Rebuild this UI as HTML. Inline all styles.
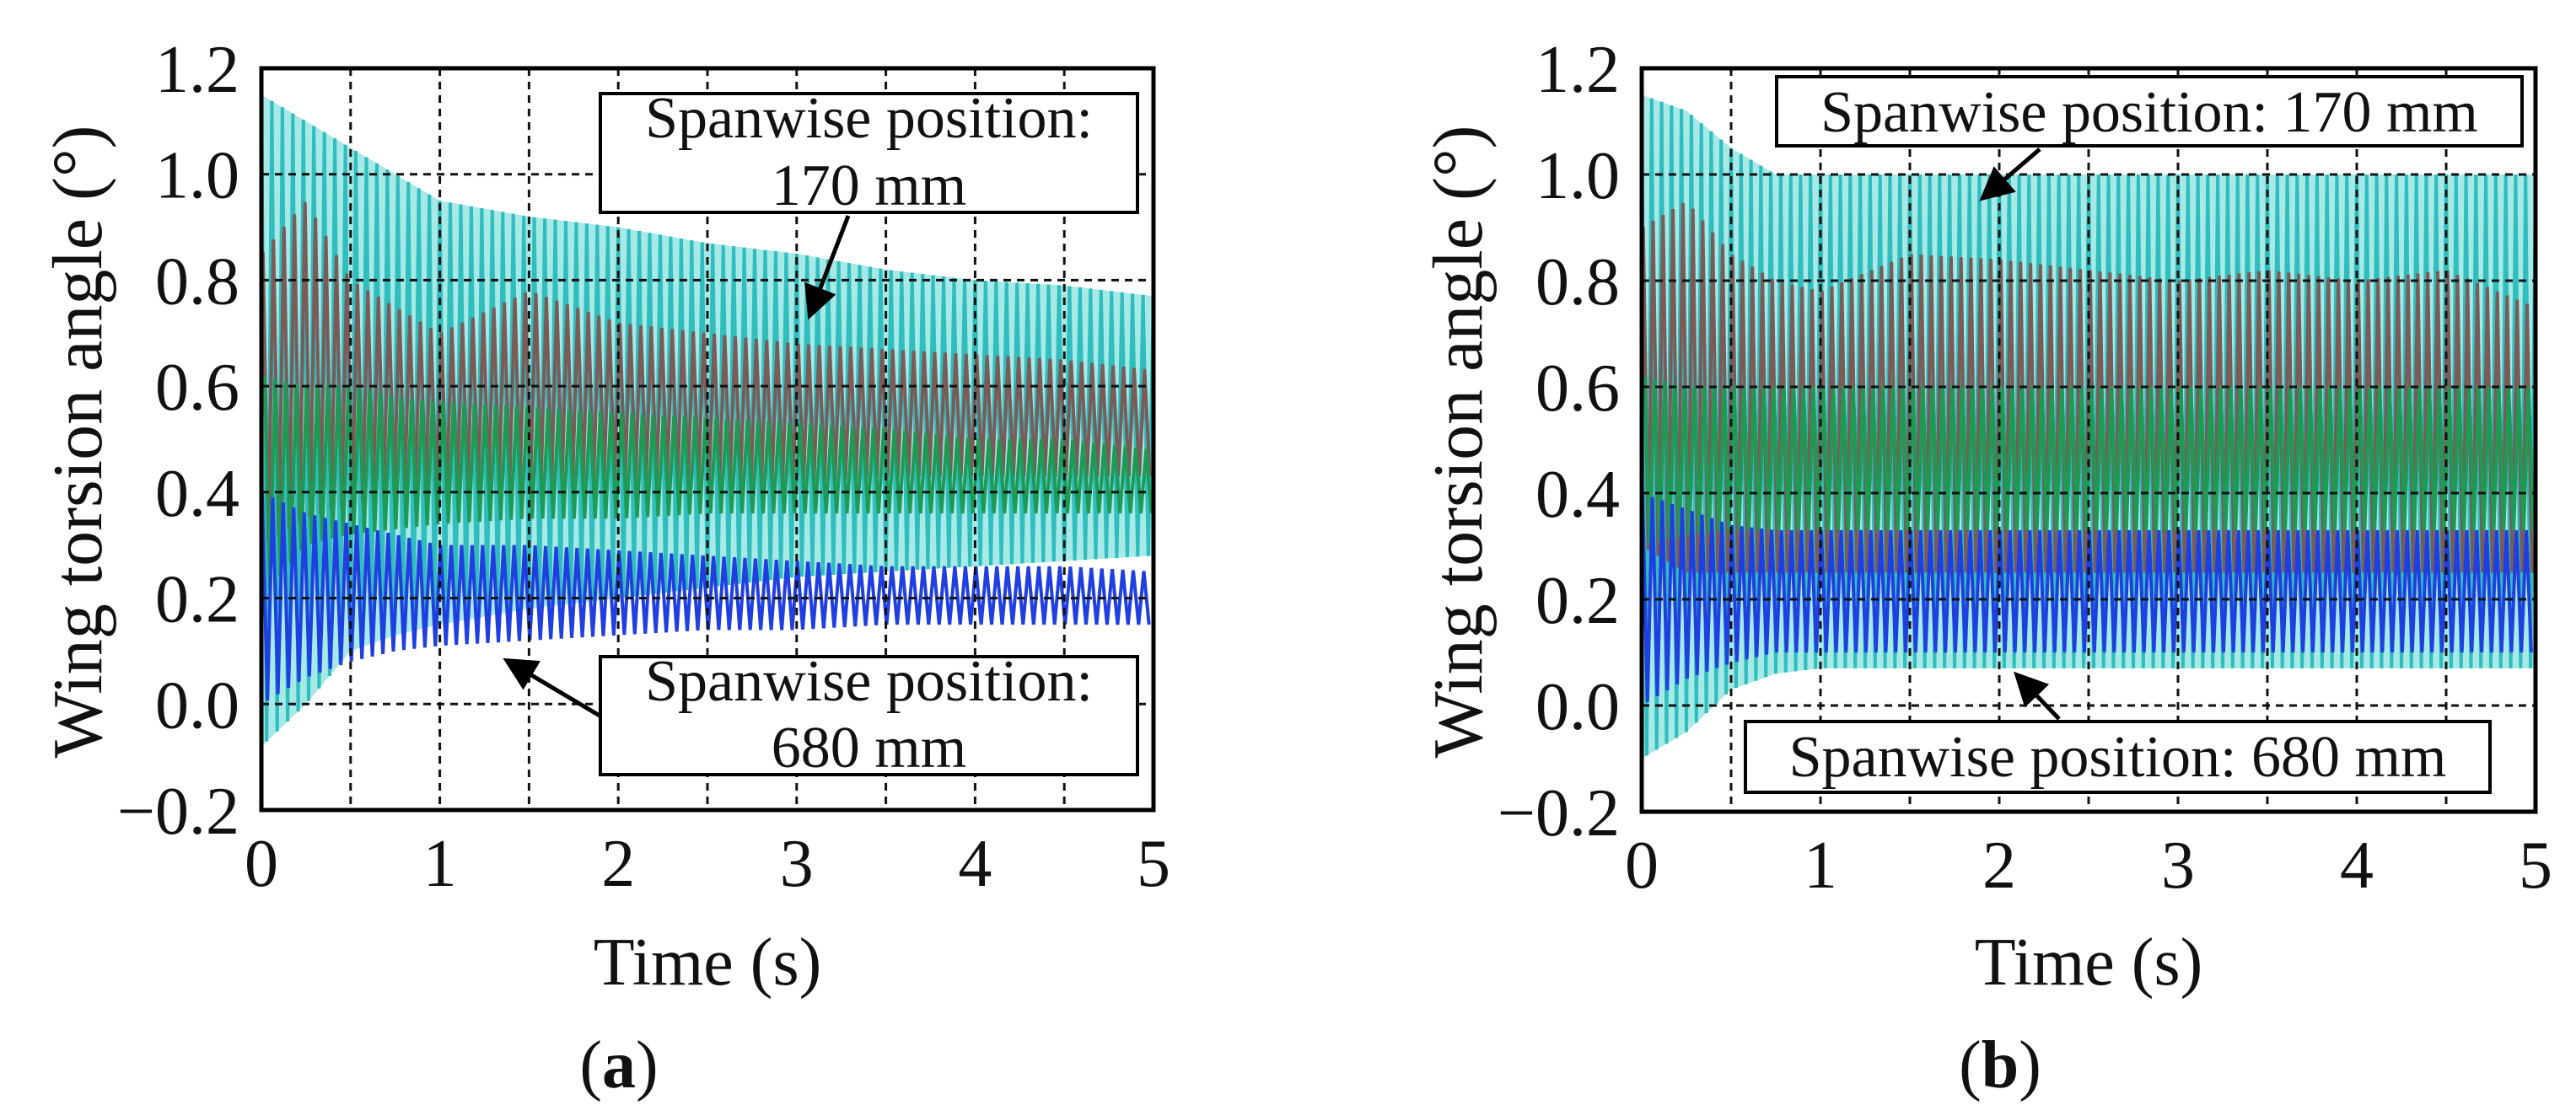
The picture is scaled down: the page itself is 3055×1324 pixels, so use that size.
<!DOCTYPE html>
<html><head><meta charset="utf-8"><style>
html,body{margin:0;padding:0;background:#fff;width:3055px;height:1324px;overflow:hidden}
svg text{font-family:"Liberation Serif",serif;fill:#111}
</style></head><body>
<svg id="fig" width="3055" height="1324" viewBox="0 0 3055 1324" xmlns="http://www.w3.org/2000/svg">
<defs><marker id="ah" markerWidth="8" markerHeight="8" refX="6" refY="4" orient="auto" markerUnits="strokeWidth"><path d="M0,0 L8,4 L0,8 z" fill="#000"/></marker></defs>
</svg>
<script>
const envT = [0,0.25,0.5,0.75,1,1.5,2,2.5,3,3.5,4,4.5,5];
// Panel a envelopes
const aCyanHi = [1.15,1.1,1.05,1.0,0.95,0.92,0.9,0.87,0.85,0.82,0.8,0.79,0.77];
const aCyanLo = [-0.08,0.0,0.1,0.13,0.15,0.18,0.2,0.22,0.24,0.25,0.26,0.27,0.28];
const aBrownHi = [0.85,0.95,0.8,0.75,0.7,0.78,0.72,0.7,0.68,0.67,0.66,0.65,0.63];
const aBrownLo = [0.3,0.35,0.38,0.4,0.4,0.42,0.42,0.42,0.42,0.43,0.43,0.43,0.43];
const aGreenHi = [0.62,0.6,0.6,0.58,0.57,0.56,0.55,0.54,0.53,0.52,0.5,0.5,0.48];
const aGreenLo = [0.2,0.3,0.32,0.33,0.34,0.35,0.35,0.36,0.36,0.36,0.36,0.36,0.36];
const aBlueHi = [0.4,0.36,0.34,0.32,0.3,0.3,0.29,0.28,0.27,0.26,0.26,0.26,0.25];
const aBlueLo = [0.0,0.05,0.08,0.1,0.11,0.12,0.13,0.14,0.14,0.15,0.15,0.15,0.15];
// Panel b envelopes
const bCyanHi = [1.15,1.12,1.05,1.0,1.0,1.0,1.0,1.0,1.0,1.0,1.0,1.0,1.0];
const bCyanLo = [-0.1,-0.05,0.03,0.06,0.07,0.07,0.07,0.07,0.07,0.07,0.07,0.07,0.07];
const bBrownHi = [0.9,0.95,0.85,0.8,0.78,0.85,0.84,0.82,0.8,0.82,0.8,0.82,0.75];
const bBrownLo = [0.3,0.25,0.25,0.25,0.25,0.25,0.25,0.25,0.25,0.25,0.25,0.25,0.25];
const bGreenHi = [0.62,0.6,0.6,0.6,0.6,0.6,0.6,0.6,0.6,0.6,0.6,0.6,0.6];
const bGreenLo = [0.3,0.32,0.33,0.33,0.33,0.33,0.33,0.33,0.33,0.33,0.33,0.33,0.33];
const bBlueHi = [0.4,0.37,0.34,0.33,0.33,0.33,0.33,0.33,0.33,0.33,0.33,0.33,0.33];
const bBlueLo = [0.0,0.05,0.08,0.1,0.1,0.1,0.1,0.1,0.1,0.1,0.1,0.1,0.1];
const freqA = 17, freqB = 18;
const yTicks = [-0.2,0.0,0.2,0.4,0.6,0.8,1.0,1.2];
const yTickLabels = ["\u22120.2","0.0","0.2","0.4","0.6","0.8","1.0","1.2"];
const xTicks = [0,1,2,3,4,5];
const xGrid = [0.5,1,1.5,2,2.5,3,3.5,4,4.5];
const yGrid = [0.0,0.2,0.4,0.6,0.8,1.0];

const NS="http://www.w3.org/2000/svg";
const svg=document.getElementById('fig');
function mk(tag,attrs,parent){const e=document.createElementNS(NS,tag);for(const k in attrs)e.setAttribute(k,attrs[k]);(parent||svg).appendChild(e);return e;}
function interp(arr,t){for(let i=0;i<envT.length-1;i++){if(t<=envT[i+1]){const f=(t-envT[i])/(envT[i+1]-envT[i]);return arr[i]+f*(arr[i+1]-arr[i]);}}return arr[arr.length-1];}

function panel(p){
  const g=mk('g',{});
  
  
  const X=t=>p.x0+(t/5)*(p.x1-p.x0);
  const Y=v=>p.y1-((v+0.2)/1.4)*(p.y1-p.y0);
  const clipId='clip'+p.name;
  const cp=mk('clipPath',{id:clipId},g);mk('rect',{x:p.x0,y:p.y0,width:p.x1-p.x0,height:p.y1-p.y0},cp);
  const dg=mk('g',{'clip-path':'url(#'+clipId+')'},g);
  let pts=[];for(let t=0;t<=5;t+=0.05)pts.push(X(t)+','+Y(interp(p.cyan[0],t)));
  for(let t=5;t>=0;t-=0.05)pts.push(X(t)+','+Y(interp(p.cyan[1],t)));
  const fill=mk('polygon',{points:pts.join(' '),fill:'#a6e9e6'},dg);
  
  
  const series=[
    {n:'series-170mm',hi:p.cyan[0],lo:p.cyan[1],c:'#2fbdbd',w:4,ph:0},
    {n:'series-brown',hi:p.brown[0],lo:p.brown[1],c:'#7a5b58',w:4,ph:0.3},
    {n:'series-green',hi:p.green[0],lo:p.green[1],c:'#1f9a55',w:4,ph:0.6},
    {n:'series-blue',hi:p.blue[0],lo:p.blue[1],c:'#1f3fe0',w:4,ph:0.15},
  ];
  series.forEach(s=>{
    const n=Math.floor(5*p.f*2);let q=[];
    for(let i=0;i<=n;i++){const t=(i+s.ph)/(2*p.f);if(t>5)break;const v=(i%2==0)?interp(s.hi,t):interp(s.lo,t);q.push(X(t).toFixed(1)+','+Y(v).toFixed(1));}
    const pl=mk('polyline',{points:q.join(' '),fill:'none',stroke:s.c,'stroke-width':s.w},dg);
    
    
  });
  xGrid.forEach(t=>{const l=mk('line',{x1:X(t),x2:X(t),y1:p.y0,y2:p.y1,stroke:'#111','stroke-width':3,'stroke-dasharray':'9 7'},g);
    
    });
  yGrid.forEach(v=>{const l=mk('line',{x1:p.x0,x2:p.x1,y1:Y(v),y2:Y(v),stroke:'#111','stroke-width':3,'stroke-dasharray':'9 7'},g);
    
    });
  const fr=mk('rect',{x:p.x0,y:p.y0,width:p.x1-p.x0,height:p.y1-p.y0,fill:'none',stroke:'#000','stroke-width':5},g);
  
  
  yTicks.forEach((v,i)=>{const t=mk('text',{x:p.x0-26,y:Y(v)+28,'font-size':80,'text-anchor':'end'},g);t.textContent=yTickLabels[i];
    
    });
  xTicks.forEach(v=>{const t=mk('text',{x:X(v),y:p.y1+90,'font-size':80,'text-anchor':'middle'},g);t.textContent=String(v);
    
    });
  const xt=mk('text',{x:(p.x0+p.x1)/2,y:1168,'font-size':80,'text-anchor':'middle'},g);xt.textContent='Time (s)';
  
  
  const yt=mk('text',{x:0,y:0,'font-size':84,'text-anchor':'middle',transform:'translate('+(p.x0-190)+',524) rotate(-90)'},g);yt.textContent='Wing torsion angle (°)';
  
  
  const cap=mk('text',{x:(p.x0+p.x1)/2-105,y:1290,'font-size':80,'text-anchor':'middle'},g);
  cap.innerHTML='(<tspan font-weight="bold">'+p.label+'</tspan>)';
  
  
  p.boxes.forEach(b=>{
    const r=mk('rect',{x:b[0],y:b[1],width:b[2]-b[0],height:b[3]-b[1],fill:'#fff',stroke:'#000','stroke-width':4},g);
    
    
    b[4].forEach((ln,i)=>{const t=mk('text',{x:(b[0]+b[2])/2,y:b[5][i],'font-size':70,'text-anchor':'middle'},g);t.textContent=ln;
      
      });
  });
  p.arrows.forEach(a=>{const l=mk('line',{x1:a[0],y1:a[1],x2:a[2],y2:a[3],stroke:'#000','stroke-width':5,'marker-end':'url(#ah)'},g);
    
    });
}
panel({name:'panel-a',label:'a',x0:310,x1:1368,y0:81,y1:961,f:freqA,
  cyan:[aCyanHi,aCyanLo],brown:[aBrownHi,aBrownLo],green:[aGreenHi,aGreenLo],blue:[aBlueHi,aBlueLo],
  boxes:[[712,111,1349,252,['Spanwise position:','170 mm'],[163,243]],[712,779,1349,919,['Spanwise position:','680 mm'],[831,910]]],
  arrows:[[1006,256,962,370],[711,849,605,786]]});
panel({name:'panel-b',label:'b',x0:1947,x1:3007,y0:81,y1:963,f:freqB,
  cyan:[bCyanHi,bCyanLo],brown:[bBrownHi,bBrownLo],green:[bGreenHi,bGreenLo],blue:[bBlueHi,bBlueLo],
  boxes:[[2107,91,2991,173,['Spanwise position: 170 mm'],[156]],[2070,856,2953,940,['Spanwise position: 680 mm'],[921]]],
  arrows:[[2419,177,2355,232],[2442,853,2395,804]]});
</script>
</body></html>
